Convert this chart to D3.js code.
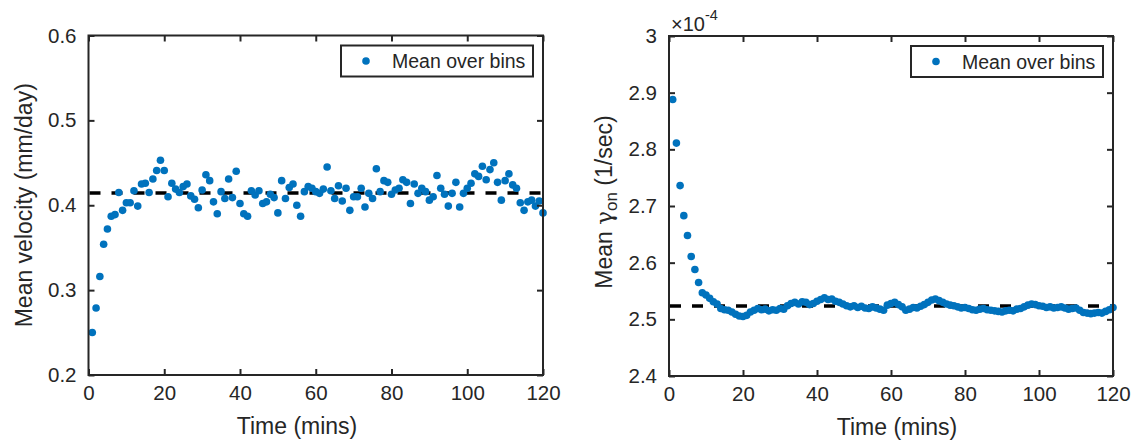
<!DOCTYPE html>
<html>
<head>
<meta charset="utf-8">
<script src="https://cdn.jsdelivr.net/npm/d3@7"></script>
<style>
  body { margin: 0; background: #fff; }
  text { font-family: "Liberation Sans", Arial, Helvetica, sans-serif; fill: #262626; }
  .tick text { font-size: 20.5px; }
  .label { font-size: 23px; }
  .legend text { font-size: 19.5px; }
</style>
</head>
<body>
<div class="svg-container"></div>
<script>
var width = 1137;
var height = 443;

// time bins (mins), same for both panels
var times = [
  1, 2, 3, 4, 5, 6, 7, 8, 9, 10, 11, 12, 13, 14, 15, 16, 17, 18, 19, 20,
  21, 22, 23, 24, 25, 26, 27, 28, 29, 30, 31, 32, 33, 34, 35, 36, 37, 38, 39, 40,
  41, 42, 43, 44, 45, 46, 47, 48, 49, 50, 51, 52, 53, 54, 55, 56, 57, 58, 59, 60,
  61, 62, 63, 64, 65, 66, 67, 68, 69, 70, 71, 72, 73, 74, 75, 76, 77, 78, 79, 80,
  81, 82, 83, 84, 85, 86, 87, 88, 89, 90, 91, 92, 93, 94, 95, 96, 97, 98, 99, 100,
  101, 102, 103, 104, 105, 106, 107, 108, 109, 110, 111, 112, 113, 114, 115, 116, 117, 118, 119, 120
];

// mean velocity (mm/day)
var velocity = [
  .250, .279, .316, .354, .372, .387, .389, .415, .394, .403,
  .403, .417, .399, .425, .426, .415, .431, .441, .453, .441,
  .410, .426, .419, .415, .422, .425, .411, .407, .397, .418,
  .436, .429, .404, .390, .416, .408, .431, .409, .440, .402,
  .390, .387, .417, .412, .417, .402, .404, .413, .409, .391,
  .429, .408, .421, .425, .400, .387, .416, .422, .420, .416,
  .414, .419, .445, .417, .408, .423, .405, .420, .394, .410,
  .410, .420, .398, .414, .408, .443, .416, .429, .427, .413,
  .418, .420, .430, .427, .402, .425, .414, .420, .416, .406,
  .410, .435, .420, .413, .399, .414, .427, .398, .414, .420,
  .426, .437, .434, .446, .430, .442, .450, .427, .406, .429,
  .437, .424, .420, .403, .394, .404, .406, .399, .405, .391
];
var velocityMean = 0.4145;

// mean gamma_on (1/sec), in units of 1e-4
var gammaOn = [
  2.888, 2.811, 2.736, 2.683, 2.648, 2.611, 2.588, 2.565, 2.547, 2.543,
  2.537, 2.531, 2.527, 2.519, 2.517, 2.516, 2.513, 2.509, 2.506, 2.505,
  2.507, 2.513, 2.516, 2.519, 2.517, 2.518, 2.515, 2.517, 2.516, 2.519,
  2.518, 2.524, 2.528, 2.530, 2.527, 2.531, 2.530, 2.526, 2.528, 2.532,
  2.535, 2.538, 2.535, 2.536, 2.532, 2.530, 2.527, 2.524, 2.522, 2.524,
  2.521, 2.523, 2.520, 2.519, 2.522, 2.520, 2.518, 2.516, 2.525, 2.528,
  2.530, 2.526, 2.522, 2.516, 2.518, 2.521, 2.520, 2.523, 2.526, 2.530,
  2.534, 2.536, 2.533, 2.530, 2.527, 2.525, 2.524, 2.522, 2.520, 2.521,
  2.519, 2.517, 2.516, 2.518, 2.519, 2.517, 2.516, 2.515, 2.514, 2.513,
  2.515, 2.516, 2.515, 2.518, 2.519, 2.522, 2.525, 2.527, 2.526, 2.524,
  2.523, 2.521, 2.522, 2.520, 2.521, 2.522, 2.520, 2.518, 2.519, 2.520,
  2.516, 2.512, 2.511, 2.510, 2.511, 2.512, 2.511, 2.514, 2.517, 2.521
];
var gammaMean = 2.5235;

var xTicks = [0, 20, 40, 60, 80, 100, 120];
var velocityTicks = [0.2, 0.3, 0.4, 0.5, 0.6];
var velocityTickLabels = ["0.2", "0.3", "0.4", "0.5", "0.6"];
var gammaTicks = [2.4, 2.5, 2.6, 2.7, 2.8, 2.9, 3.0];
var gammaTickLabels = ["2.4", "2.5", "2.6", "2.7", "2.8", "2.9", "3"];

var legendLabel = "Mean over bins";
var xLabelText = "Time (mins)";

var dotColor = "#0072BD";
var axisColor = "#262626";

var svg = d3.select(".svg-container")
            .append("svg")
            .attr("width", width)
            .attr("height", height);

// panel boxes (labelX = centre of the x label)
var leftBox = { x0: 88.5, x1: 543, y0: 35.5, y1: 375, labelX: 297 };
var rightBox = { x0: 669, x1: 1113, y0: 36, y1: 376, labelX: 897 };

var leftX = d3.scaleLinear().domain([0, 120]).range([leftBox.x0, leftBox.x1]);
var leftY = d3.scaleLinear().domain([0.2, 0.6]).range([leftBox.y1, leftBox.y0]);
var rightX = d3.scaleLinear().domain([0, 120]).range([rightBox.x0, rightBox.x1]);
var rightY = d3.scaleLinear().domain([2.4, 3.0]).range([rightBox.y1, rightBox.y0]);

drawPanel(leftBox, leftX, leftY, velocity, velocityMean, velocityTicks, velocityTickLabels);
drawPanel(rightBox, rightX, rightY, gammaOn, gammaMean, gammaTicks, gammaTickLabels);

// y labels
svg.append("text")
   .attr("class", "label")
   .attr("transform", "translate(32," + (leftBox.y0 + leftBox.y1) / 2 + ") rotate(-90)")
   .attr("text-anchor", "middle")
   .text("Mean velocity (mm/day)");

var gLabel = svg.append("text")
   .attr("class", "label")
   .attr("transform", "translate(612," + ((rightBox.y0 + rightBox.y1) / 2 - 4) + ") rotate(-90)")
   .attr("text-anchor", "middle");
gLabel.append("tspan").text("Mean ");
gLabel.append("tspan").attr("font-family", "DejaVu Serif").text("\u03B3");
gLabel.append("tspan").attr("dy", 5).style("font-size", "17px").text("on");
gLabel.append("tspan").attr("dy", -5).text("  (1/sec)");

// exponent
var expText = svg.append("text")
   .attr("x", rightBox.x0 + 2)
   .attr("y", 31)
   .style("font-size", "20px");
expText.append("tspan").text("\u00D710");
expText.append("tspan").attr("dy", -11).style("font-size", "14.5px").text("-4");

function drawPanel(box, x, y, values, mean, yTicks, yTickLabels) {
    var g = svg.append("g");

    // mean line
    g.append("line")
     .attr("x1", box.x0 + 1)
     .attr("x2", box.x1 - 1)
     .attr("y1", y(mean))
     .attr("y2", y(mean))
     .attr("stroke", "#000")
     .attr("stroke-width", 3.5)
     .attr("stroke-dasharray", "11,11");

    // data points
    g.selectAll("circle")
     .data(values)
     .enter()
     .append("circle")
     .attr("cx", function(d, i) { return x(times[i]); })
     .attr("cy", function(d) { return y(d); })
     .attr("r", 3.8)
     .attr("fill", dotColor);

    // axes, ticks pointing inward
    g.append("g")
     .attr("transform", "translate(0," + box.y1 + ")")
     .call(d3.axisBottom(x).tickValues(xTicks).tickSize(-6).tickPadding(10).tickFormat(d3.format("d")))
     .call(styleAxis);
    g.append("g")
     .attr("transform", "translate(0," + box.y0 + ")")
     .call(d3.axisTop(x).tickValues(xTicks).tickSize(-6).tickFormat(""))
     .call(styleAxis);
    g.append("g")
     .attr("transform", "translate(" + box.x0 + ",0)")
     .call(d3.axisLeft(y).tickValues(yTicks).tickSize(-6).tickPadding(12)
             .tickFormat(function(d, i) { return yTickLabels[i]; }))
     .call(styleAxis);
    g.append("g")
     .attr("transform", "translate(" + box.x1 + ",0)")
     .call(d3.axisRight(y).tickValues(yTicks).tickSize(-6).tickFormat(""))
     .call(styleAxis);

    g.selectAll(".tick text").attr("font-family", null);

    // box
    g.append("rect")
     .attr("x", box.x0)
     .attr("y", box.y0)
     .attr("width", box.x1 - box.x0)
     .attr("height", box.y1 - box.y0)
     .attr("fill", "none")
     .attr("stroke", axisColor)
     .attr("stroke-width", 2);

    // x label
    g.append("text")
     .attr("class", "label")
     .attr("x", box.labelX)
     .attr("y", box.y1 + 59)
     .attr("text-anchor", "middle")
     .text(xLabelText);

    drawLegend(g, box.x1 - 202, box.y0 + 10, 192, 31);
}

function styleAxis(sel) {
    sel.select(".domain").remove();
    sel.selectAll(".tick line").attr("stroke", axisColor).attr("stroke-width", 2);
    sel.selectAll(".tick text").attr("fill", axisColor);
    sel.attr("font-size", null);
}

function drawLegend(g, lx, ly, w, h) {
    var lg = g.append("g").attr("class", "legend");
    lg.append("rect")
      .attr("x", lx)
      .attr("y", ly)
      .attr("width", w)
      .attr("height", h)
      .attr("fill", "#fff")
      .attr("stroke", axisColor)
      .attr("stroke-width", 2);
    lg.append("circle")
      .attr("cx", lx + 25)
      .attr("cy", ly + h / 2)
      .attr("r", 3.8)
      .attr("fill", dotColor);
    lg.append("text")
      .attr("x", lx + 51)
      .attr("y", ly + h / 2 + 7)
      .text(legendLabel);
}
</script>
</body>
</html>
